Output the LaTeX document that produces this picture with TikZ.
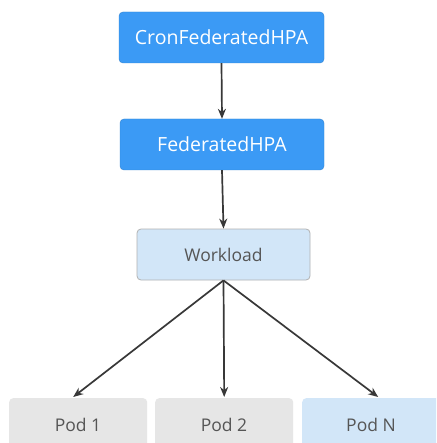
\documentclass[tikz,border=0pt]{standalone}
\usepackage{fontspec}
\setmainfont{Open Sans}
\usetikzlibrary{arrows.meta,calc}
\definecolor{hpablue}{HTML}{3B9AF5}
\definecolor{wlblue}{HTML}{D2E6F8}
\definecolor{podgray}{HTML}{E6E6E6}
\definecolor{txtgray}{HTML}{555555}
\definecolor{linegray}{HTML}{383838}
\begin{document}
\begin{tikzpicture}[x=1pt,y=-1pt,
  hpabox/.style={draw=hpablue!85!black, line width=0.4pt, fill=hpablue, rounded corners=4pt, text=white, font=\fontsize{19.5}{22}\selectfont, minimum height=51pt, inner sep=0pt},
  wlbox/.style={draw=gray!60, line width=0.8pt, fill=wlblue, rounded corners=4pt, text=txtgray, font=\fontsize{17.5}{20}\selectfont, minimum width=173pt, minimum height=51pt, inner sep=0pt},
  podbox/.style={fill=podgray, rounded corners=4pt, text=txtgray, font=\fontsize{17.5}{20}\selectfont, minimum width=138pt, minimum height=54pt, inner sep=0pt, text depth=0pt},
  conn/.style={draw=linegray, line width=1.7pt, -{Stealth[length=10pt,width=8pt]}}
]
\useasboundingbox (0,0) rectangle (436,443);
\fill[white] (0,0) rectangle (436,443);
\node[hpabox, minimum width=205pt] (cron) at (221.5,37.5) {CronFederatedHPA};
\node[hpabox, minimum width=204pt] (fed) at (222,144.5) {FederatedHPA};
\node[wlbox] (wl) at (223.5,254.5) {Workload};
\begin{scope}
\clip (0,0) rectangle (436,443);
\node[podbox, anchor=north west] (p1) at (9,398) {};
\node[text=txtgray, font=\fontsize{17.5}{20}\selectfont] (p1t) at (78,425) {Pod 1};
\node[podbox, anchor=north west] (p2) at (155,398) {};
\node[text=txtgray, font=\fontsize{17.5}{20}\selectfont] (p2t) at (224,425) {Pod 2};
\node[podbox, fill=wlblue, minimum width=143pt, anchor=north west] (pn) at (302,398) {};
\node[text=txtgray, font=\fontsize{17.5}{20}\selectfont] (pnt) at (371,425) {Pod N};
\end{scope}
\draw[conn] (cron.south) -- (fed.north);
\draw[conn] (fed.south) -- (wl.north);
\draw[conn] (wl.south) -- ($(p1.north)+(-5,-1)$);
\draw[conn] (wl.south) -- ($(p2.north)+(0,-1)$);
\draw[conn] (wl.south) -- ($(pn.north)+(4.5,-1)$);
\end{tikzpicture}
\end{document}
